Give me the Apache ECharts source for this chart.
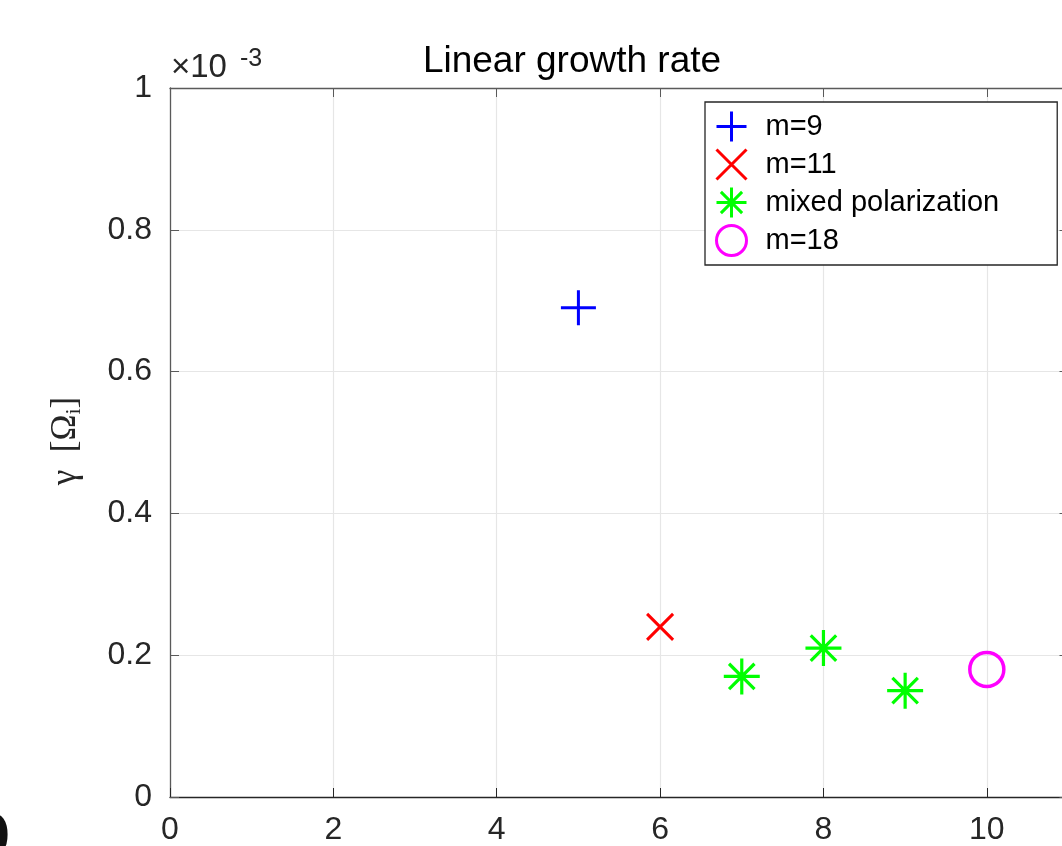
<!DOCTYPE html>
<html><head><meta charset="utf-8">
<script src="https://cdn.jsdelivr.net/npm/echarts@6/dist/echarts.min.js"></script>
<style>html,body{margin:0;padding:0;background:#fff}#c{width:1062px;height:846px}</style>
</head><body><div id="c"></div>
<script>
// ---- data (gamma in units of 1e-3 Omega_i) ----
const seriesNames = ['m=9', 'm=11', 'mixed polarization', 'm=18'];
const m9X = [5];
const m9Y = [0.69];
const m11X = [6];
const m11Y = [0.24];
const mixedX = [7, 8, 9];
const mixedY = [0.17, 0.21, 0.15];
const m18X = [10];
const m18Y = [0.18];
const xTickLabels = ['0', '2', '4', '6', '8', '10'];
const yTickLabels = ['0', '0.2', '0.4', '0.6', '0.8', '1'];
const titleText = 'Linear growth rate';
const exponentText = '-3';

const pair = (xs, ys) => xs.map((x, i) => [x, ys[i]]);

const PLUS = 'path://M0,-10L0,10M-10,0L10,0';
const CROSS = 'path://M-10,-10L10,10M-10,10L10,-10';
const STAR = 'path://M0,-10L0,10M-10,0L10,0M-7.07,-7.07L7.07,7.07M-7.07,7.07L7.07,-7.07';

const AX = '#262626';
const AX2 = '#5a5a5a';
const GRIDC = '#e6e6e6';
const FONT = '"Liberation Sans", Arial, sans-serif';

const chart = echarts.init(document.getElementById('c'), null, {renderer: 'canvas'});

const mkStyle = (c, w) => ({color: 'rgba(0,0,0,0)', borderColor: c, borderWidth: w, opacity: 1});

const option = {
  animation: false,
  backgroundColor: '#ffffff',
  grid: {left: 170, top: 88, width: 898.5, height: 709, containLabel: false, outerBoundsMode: 'none'},
  xAxis: [{
    type: 'value', min: 0, max: 11, interval: 2, position: 'bottom',
    axisLine: {show: true, onZero: false, lineStyle: {color: AX, width: 1.3}},
    axisTick: {show: true, inside: true, length: 9, lineStyle: {color: AX}},
    axisLabel: {show: true, margin: 17, color: AX, fontSize: 32, fontFamily: FONT,
      formatter: v => { const i = Math.round(v / 2); return (Math.abs(v - i * 2) < 1e-9 && i < xTickLabels.length) ? xTickLabels[i] : ''; }},
    splitLine: {show: true, lineStyle: {color: GRIDC, width: 1.2}}
  }, {
    type: 'value', min: 0, max: 11, interval: 2, position: 'top',
    axisLine: {show: true, onZero: false, lineStyle: {color: AX2, width: 1.3}},
    axisTick: {show: true, inside: true, length: 9, lineStyle: {color: AX2}},
    axisLabel: {show: false},
    splitLine: {show: false}
  }],
  yAxis: [{
    type: 'value', min: 0, max: 1, interval: 0.2, position: 'left',
    axisLine: {show: true, onZero: false, lineStyle: {color: AX2, width: 1.3}},
    axisTick: {show: true, inside: true, length: 9, lineStyle: {color: AX2}},
    axisLabel: {show: true, margin: 18, color: AX, fontSize: 32, fontFamily: FONT,
      formatter: v => yTickLabels[Math.round(v / 0.2)]},
    splitLine: {show: true, lineStyle: {color: GRIDC, width: 1.2}}
  }, {
    type: 'value', min: 0, max: 1, interval: 0.2, position: 'right',
    axisLine: {show: true, onZero: false, lineStyle: {color: AX2, width: 1.3}},
    axisTick: {show: true, inside: true, length: 9, lineStyle: {color: AX2}},
    axisLabel: {show: false},
    splitLine: {show: false}
  }],
  legend: {
    orient: 'vertical', left: 705, top: 102,
    backgroundColor: '#ffffff', borderColor: AX, borderWidth: 1.3, borderRadius: 0,
    padding: [8, 58, 8, 10],
    itemWidth: 40, itemHeight: 30, itemGap: 5,
    textStyle: {fontSize: 29, lineHeight: 30, fontFamily: FONT, color: '#000', padding: [0, 0, 0, 9]},
    selectedMode: false,
    data: [
      {name: seriesNames[0], icon: PLUS, itemStyle: mkStyle('#0000ff', 3)},
      {name: seriesNames[1], icon: CROSS, itemStyle: mkStyle('#ff0000', 3)},
      {name: seriesNames[2], icon: STAR, itemStyle: mkStyle('#00ff00', 3)},
      {name: seriesNames[3], icon: 'circle', itemStyle: mkStyle('#ff00ff', 3)}
    ]
  },
  graphic: [
    {type: 'text', x: 572, y: 62, style: {text: titleText, fill: '#000', font: '37px ' + FONT, align: 'center', verticalAlign: 'middle'}},
    {type: 'text', x: 171, y: 68, style: {text: '×10', fill: AX, font: '33px ' + FONT, align: 'left', verticalAlign: 'middle'}},
    {type: 'text', x: 240, y: 59, style: {text: exponentText, fill: AX, font: '25px ' + FONT, align: 'left', verticalAlign: 'middle'}},
    {type: 'text', x: 66, y: 441, rotation: Math.PI / 2,
      style: {text: 'γ  [Ω{sub|i}]', fill: AX, font: '35px "Liberation Serif", "Times New Roman", serif', align: 'center', verticalAlign: 'middle',
        rich: {sub: {fontSize: 22, fontFamily: '"Liberation Serif", serif', fill: AX, padding: [16, 0, 0, 0]}}}},
    {type: 'text', x: -38, y: 874, style: {text: 'b', fill: '#111', font: 'bold 80px "Liberation Sans", sans-serif', align: 'left', verticalAlign: 'bottom'}}
  ],
  series: [
    {name: seriesNames[0], type: 'scatter', data: pair(m9X, m9Y), symbol: PLUS, symbolSize: 35, itemStyle: mkStyle('#0000ff', 3), emphasis: {disabled: true}},
    {name: seriesNames[1], type: 'scatter', data: pair(m11X, m11Y), symbol: CROSS, symbolSize: 26, itemStyle: mkStyle('#ff0000', 3), emphasis: {disabled: true}},
    {name: seriesNames[2], type: 'scatter', data: pair(mixedX, mixedY), symbol: STAR, symbolSize: 36, itemStyle: mkStyle('#00ff00', 3.2), emphasis: {disabled: true}},
    {name: seriesNames[3], type: 'scatter', data: pair(m18X, m18Y), symbol: 'circle', symbolSize: 34, itemStyle: mkStyle('#ff00ff', 3.5), emphasis: {disabled: true}}
  ]
};
chart.setOption(option);
</script>
</body></html>
